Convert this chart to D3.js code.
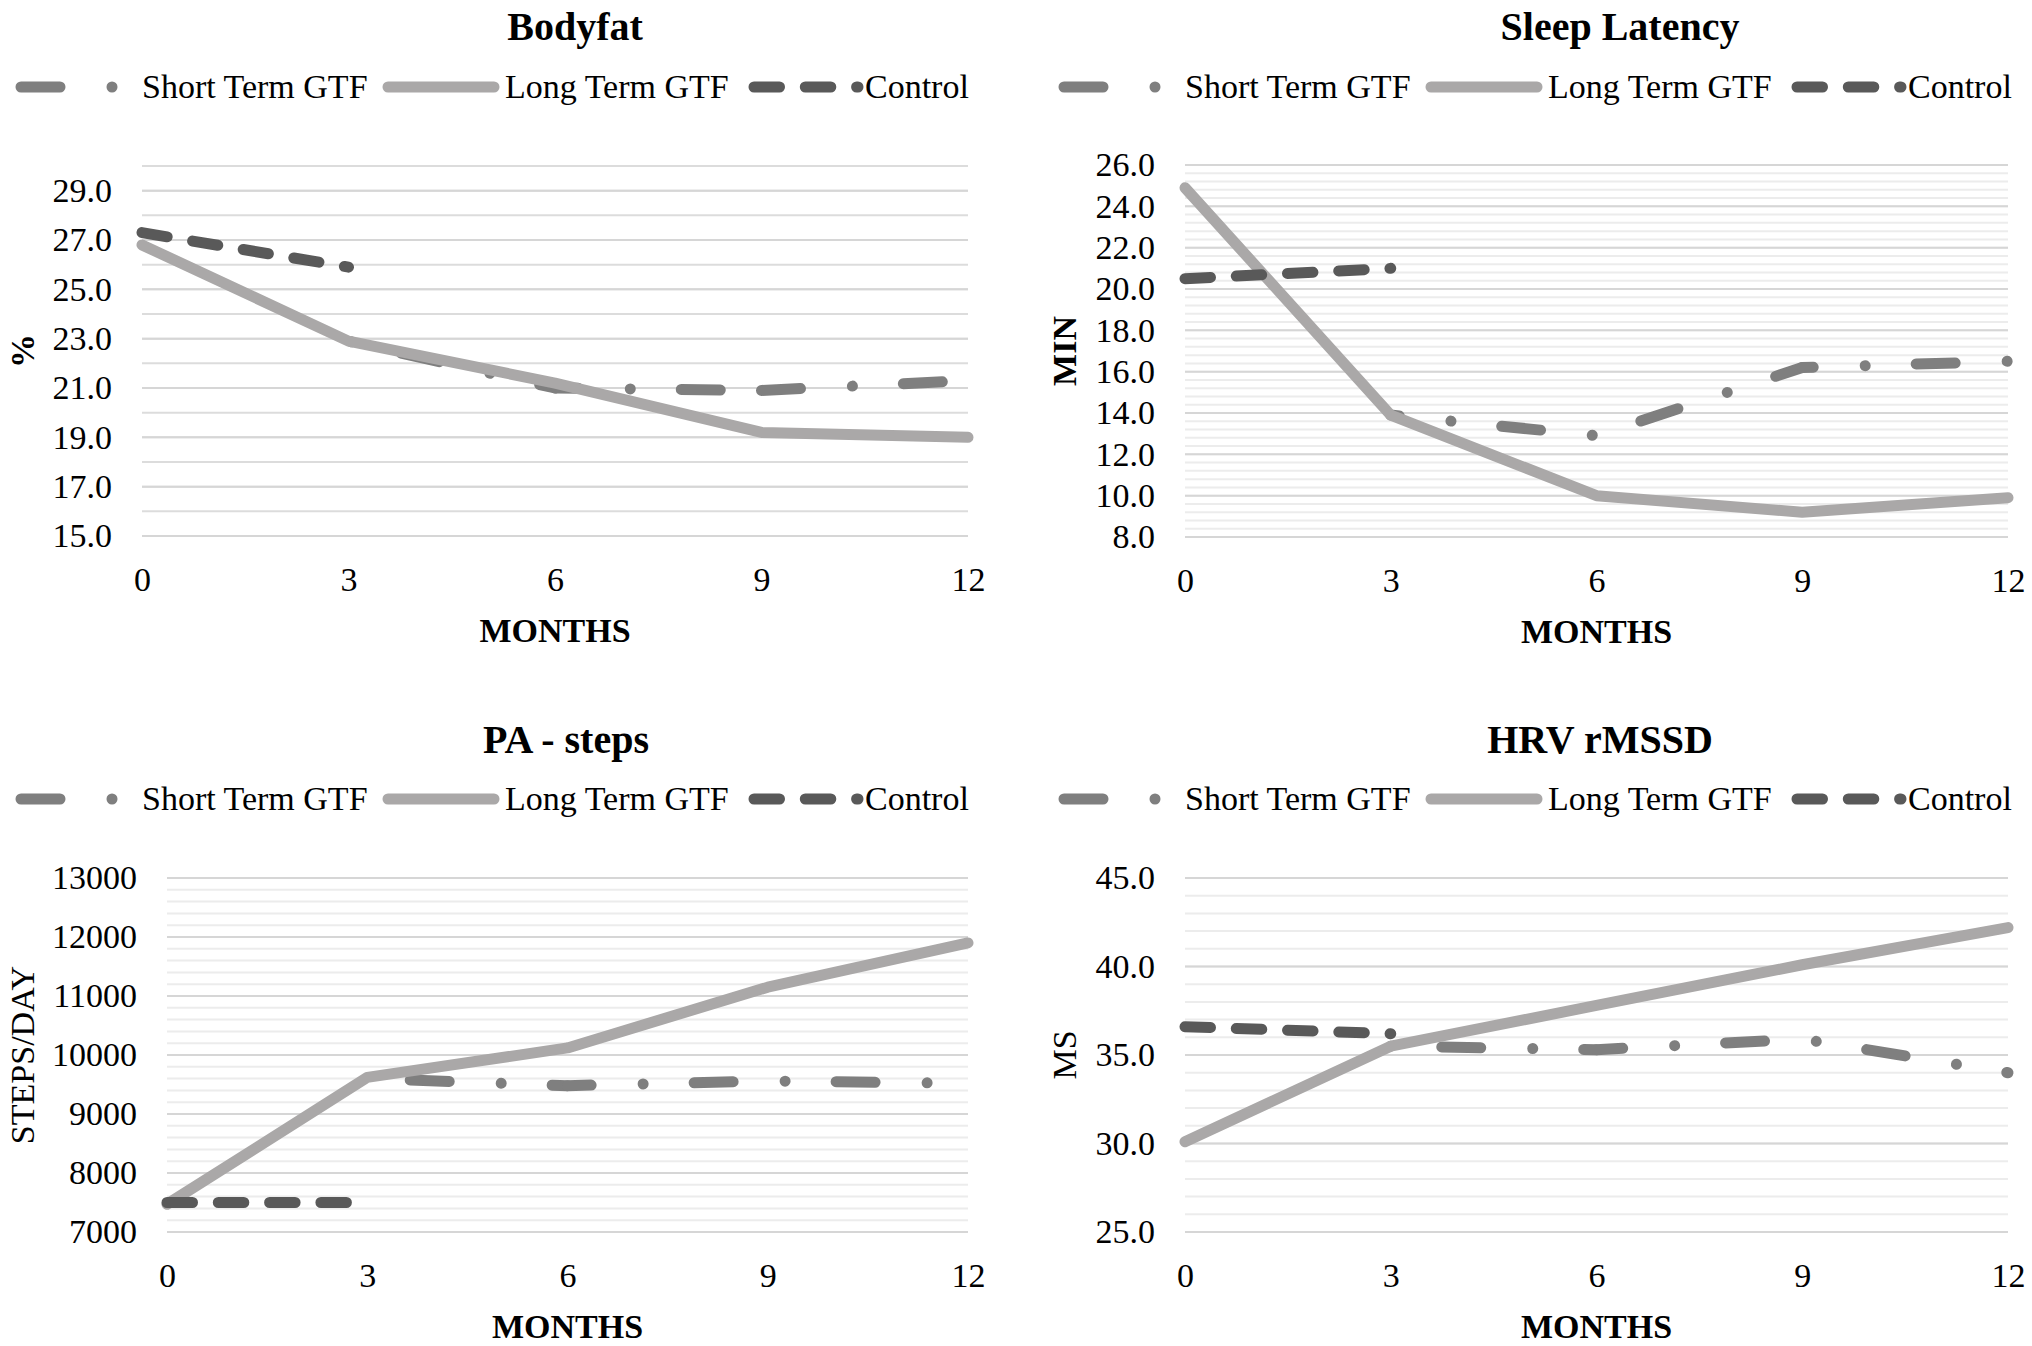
<!DOCTYPE html>
<meta charset="utf-8">
<style>
    html, body {
        margin: 0;
        padding: 0;
        background: #fff;
    }
    text {
        font-family: "Liberation Serif", "Times New Roman", serif;
    }
</style>
<body>
<svg id="charts" width="2032" height="1346"></svg>

<script src="https://cdn.jsdelivr.net/npm/d3@7"></script>
<script>
  // months on the x axis
  var months = [0, 3, 6, 9, 12];
  var shortMonths = [3, 6, 9, 12];
  var controlMonths = [0, 3];
  var seriesNames = ["Short Term GTF", "Long Term GTF", "Control"];

  // Bodyfat (%)
  var bodyfatShort = [22.9, 21.0, 20.9, 21.3];
  var bodyfatLong = [26.8, 22.9, 21.2, 19.2, 19.0];
  var bodyfatControl = [27.3, 25.9];
  var bodyfatTicks = [15, 17, 19, 21, 23, 25, 27, 29];

  // Sleep latency (min)
  var sleepShort = [13.9, 12.9, 16.2, 16.5];
  var sleepLong = [24.9, 13.9, 10.0, 9.2, 9.9];
  var sleepControl = [20.5, 21.0];
  var sleepTicks = [8, 10, 12, 14, 16, 18, 20, 22, 24, 26];

  // PA - steps (steps/day)
  var stepsShort = [9600, 9480, 9560, 9520];
  var stepsLong = [7470, 9620, 10120, 11150, 11900];
  var stepsControl = [7500, 7500];
  var stepsTicks = [7000, 8000, 9000, 10000, 11000, 12000, 13000];

  // HRV rMSSD (ms)
  var hrvShort = [35.5, 35.3, 35.9, 34.0];
  var hrvLong = [30.1, 35.5, 37.8, 40.1, 42.2];
  var hrvControl = [36.6, 36.2];
  var hrvTicks = [25, 30, 35, 40, 45];

  var colors = {short: "#7f7f7f", long: "#aaa8a8", control: "#595959"};
  var dashes = {short: "39,52,0.01,51", long: null, control: "25.5,25.8"};
  var LW = 11;

  // layout per panel; shortPhase = where the dash pattern sits at month 3,
  // shortRestart = segment index where excel restarted the pattern
  var panels = [
    {title: "Bodyfat", yLabel: "%", yBold: true, short: bodyfatShort, long: bodyfatLong, control: bodyfatControl,
     ticks: bodyfatTicks, domain: [15, 30], minor: 1, minorColor: "#dcdcdc", fmt: ".1f",
     left: 142, right: 968, top: 166, bottom: 536, ox: 0, titleX: 575, titleY: 40, legendY: 87, yLabelX: 34,
     shortPhase: 88, shortRestart: 2},
    {title: "Sleep Latency", yLabel: "MIN", yBold: true, short: sleepShort, long: sleepLong, control: sleepControl,
     ticks: sleepTicks, domain: [8, 26], minor: 0.4, minorColor: "#ececec", fmt: ".1f",
     left: 1185, right: 2008, top: 165, bottom: 537, ox: 1043, titleX: 1620, titleY: 40, legendY: 87, yLabelX: 1076,
     shortPhase: 30.5, shortRestart: -1},
    {title: "PA - steps", yLabel: "STEPS/DAY", yBold: false, short: stepsShort, long: stepsLong, control: stepsControl,
     ticks: stepsTicks, domain: [7000, 13000], minor: 200, minorColor: "#ececec", fmt: "d",
     left: 167, right: 968, top: 878, bottom: 1232, ox: 0, titleX: 566, titleY: 753, legendY: 799, yLabelX: 34,
     shortPhase: 99, shortRestart: -1},
    {title: "HRV rMSSD", yLabel: "MS", yBold: false, short: hrvShort, long: hrvLong, control: hrvControl,
     ticks: hrvTicks, domain: [25, 45], minor: 1, minorColor: "#ececec", fmt: ".1f",
     left: 1185, right: 2008, top: 878, bottom: 1232, ox: 1043, titleX: 1600, titleY: 753, legendY: 799, yLabelX: 1076,
     shortPhase: 91, shortRestart: -1}
  ];

  var svg = d3.select("#charts");

  function styleLine(sel, key) {
    sel.attr("fill", "none")
      .attr("stroke", colors[key])
      .attr("stroke-width", LW)
      .attr("stroke-linecap", "round")
      .attr("stroke-linejoin", "round")
      .attr("stroke-dasharray", dashes[key]);
  }

  panels.forEach(function (p) {
    var g = svg.append("g");
    var x = d3.scaleLinear().domain([0, 12]).range([p.left, p.right]);
    var y = d3.scaleLinear().domain(p.domain).range([p.bottom, p.top]);

    // minor gridlines
    var nMinor = Math.round((p.domain[1] - p.domain[0]) / p.minor);
    var minorVals = d3.range(nMinor + 1).map(function (i) { return p.domain[0] + i * p.minor; });
    g.append("g").selectAll("line")
      .data(minorVals)
      .enter().append("line")
      .attr("x1", p.left).attr("x2", p.right)
      .attr("y1", function (d) { return y(d); })
      .attr("y2", function (d) { return y(d); })
      .attr("stroke", p.minorColor)
      .attr("stroke-width", 2);

    // major gridlines
    g.append("g").selectAll("line")
      .data(p.ticks)
      .enter().append("line")
      .attr("x1", p.left).attr("x2", p.right)
      .attr("y1", function (d) { return y(d); })
      .attr("y2", function (d) { return y(d); })
      .attr("stroke", "#d6d6d6")
      .attr("stroke-width", 2);

    // y axis
    var yAxis = g.append("g")
      .attr("transform", "translate(" + p.left + ",0)")
      .call(d3.axisLeft(y).tickValues(p.ticks).tickSize(0).tickPadding(30).tickFormat(d3.format(p.fmt)));
    yAxis.select(".domain").remove();
    yAxis.selectAll("text")
      .attr("font-family", "Liberation Serif")
      .attr("font-size", 34)
      .attr("fill", "#000");

    // x axis
    var xAxis = g.append("g")
      .attr("transform", "translate(0," + p.bottom + ")")
      .call(d3.axisBottom(x).tickValues(months).tickSize(0).tickFormat(d3.format("d")));
    xAxis.select(".domain").remove();
    xAxis.selectAll("text")
      .attr("y", 55)
      .attr("dy", null)
      .attr("font-family", "Liberation Serif")
      .attr("font-size", 34)
      .attr("fill", "#000");

    var line = d3.line()
      .x(function (d) { return x(d[0]); })
      .y(function (d) { return y(d[1]); });

    // short term: one path per segment so the dash phase can follow excel
    var shortPts = d3.zip(shortMonths, p.short);
    var phase = p.shortPhase;
    var gs = g.append("g");
    d3.pairs(shortPts).forEach(function (seg, i) {
      if (i === p.shortRestart) phase = 0;
      gs.append("path")
        .attr("d", line(seg))
        .call(styleLine, "short")
        .attr("stroke-dashoffset", phase);
      phase += Math.hypot(x(seg[1][0]) - x(seg[0][0]), y(seg[1][1]) - y(seg[0][1]));
    });

    g.append("path")
      .attr("d", line(d3.zip(months, p.long)))
      .call(styleLine, "long");

    g.append("path")
      .attr("d", line(d3.zip(controlMonths, p.control)))
      .call(styleLine, "control");

    // titles
    g.append("text")
      .attr("x", p.titleX).attr("y", p.titleY)
      .attr("text-anchor", "middle")
      .attr("font-size", 40)
      .attr("font-weight", "bold")
      .text(p.title);

    g.append("text")
      .attr("x", (p.left + p.right) / 2).attr("y", p.bottom + 106)
      .attr("text-anchor", "middle")
      .attr("font-size", 34)
      .attr("font-weight", "bold")
      .text("MONTHS");

    g.append("text")
      .attr("transform", "translate(" + p.yLabelX + "," + ((p.top + p.bottom) / 2) + ") rotate(-90)")
      .attr("text-anchor", "middle")
      .attr("font-size", 34)
      .attr("font-weight", p.yBold ? "bold" : "normal")
      .text(p.yLabel);

    // legend
    var legendItems = [
      {key: "short", x0: 21, x1: 137, tx: 142},
      {key: "long", x0: 388, x1: 494, tx: 505},
      {key: "control", x0: 754, x1: 858, tx: 865}
    ];
    var lg = g.append("g").attr("transform", "translate(" + p.ox + "," + p.legendY + ")");
    legendItems.forEach(function (it, i) {
      lg.append("line")
        .attr("x1", it.x0).attr("x2", it.x1)
        .attr("y1", 0).attr("y2", 0)
        .call(styleLine, it.key);
      lg.append("text")
        .attr("x", it.tx).attr("y", 0)
        .attr("dy", "0.33em")
        .attr("font-size", 34)
        .text(seriesNames[i]);
    });
  });
</script>
